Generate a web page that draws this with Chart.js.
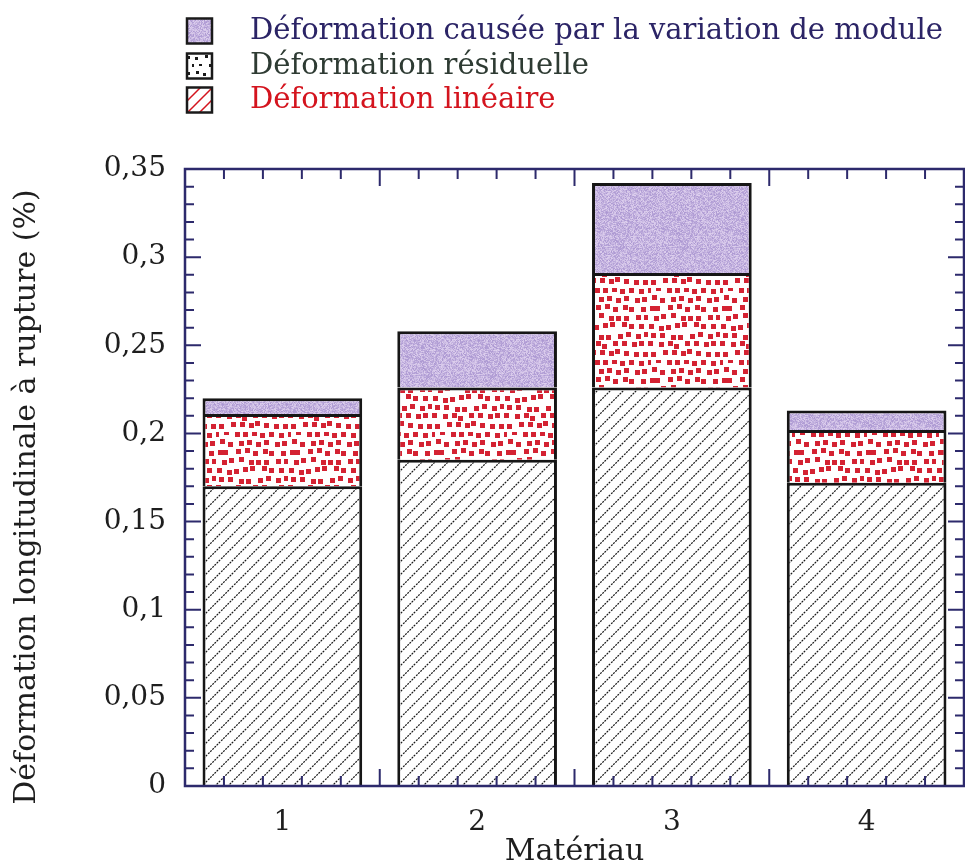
<!DOCTYPE html>
<html>
<head>
<meta charset="utf-8">
<script src="https://cdn.jsdelivr.net/npm/chart.js@4"></script>
<style>
  html, body { margin: 0; background: #fff; }
</style>
</head>
<body>
<canvas id="chart" width="965" height="867"></canvas>
<script>
// Strain at rupture (%), one value per material
const materials = ['1', '2', '3', '4'];
const linearStrain = [0.170, 0.185, 0.226, 0.172];
const residualStrain = [0.041, 0.041, 0.065, 0.030];
const moduleStrain = [0.009, 0.032, 0.051, 0.011];
const seriesNames = [
    'Déformation linéaire',
    'Déformation résiduelle',
    'Déformation causée par la variation de module'
];
const yTitle = 'Déformation longitudinale à rupture (%)';

const FONT = 'DejaVu Serif';
const AXIS_COLOR = '#2d2a6c';
const TEXT_COLOR = '#1e1e1e';

// deterministic jitter for the fill textures
function lcg(seed) {
    let s = seed;
    return () => (s = (s * 16807) % 2147483647) / 2147483647;
}

function makeCanvas(w, h) {
    const c = document.createElement('canvas');
    c.width = w;
    c.height = h;
    return c;
}

function hatchTile(color, step, dashed) {
    const c = makeCanvas(step, step);
    const g = c.getContext('2d');
    g.fillStyle = '#fff';
    g.fillRect(0, 0, step, step);
    g.strokeStyle = color;
    g.lineWidth = dashed ? 1.2 : 1.5;
    if (dashed) g.setLineDash([2, 1]);
    g.beginPath();
    g.moveTo(-2, step + 2); g.lineTo(step + 2, -2);
    g.moveTo(-2, 2); g.lineTo(2, -2);
    g.moveTo(step - 2, step + 2); g.lineTo(step + 2, step - 2);
    g.stroke();
    return c;
}

function squaresTile(color, size, gap, jitter) {
    const n = 8;
    const c = makeCanvas(n * gap, n * gap);
    const g = c.getContext('2d');
    const rnd = lcg(11);
    g.fillStyle = '#fff';
    g.fillRect(0, 0, c.width, c.height);
    g.fillStyle = color;
    for (let r = 0; r < n; r++) {
        for (let k = 0; k < n; k++) {
            const x = k * gap + (r % 2) * gap / 2 + (rnd() - 0.5) * jitter;
            const y = r * gap + (rnd() - 0.5) * jitter;
            g.fillRect(Math.round(x), Math.round(y), size, size);
        }
    }
    return c;
}

function noiseTile() {
    const s = 64;
    const c = makeCanvas(s, s);
    const g = c.getContext('2d');
    const img = g.createImageData(s, s);
    const rnd = lcg(5);
    for (let i = 0; i < s * s; i++) {
        const n = rnd();
        img.data[i * 4] = 222 - 50 * n;
        img.data[i * 4 + 1] = 208 - 56 * n;
        img.data[i * 4 + 2] = 238 - 28 * n;
        img.data[i * 4 + 3] = 255;
    }
    g.putImageData(img, 0, 0);
    return c;
}

const ctx = document.getElementById('chart').getContext('2d');
const hatchFill = ctx.createPattern(hatchTile('#1a1a1a', 13, true), 'repeat');
const squaresFill = ctx.createPattern(squaresTile('#d42232', 5, 9, 4), 'repeat');
const purpleFill = ctx.createPattern(noiseTile(), 'repeat');

// Box ticks pointing into the plot on all four sides
const frameTicks = {
    id: 'frameTicks',
    afterDatasetsDraw(chart) {
        const { ctx, chartArea: a, scales: { x, y } } = chart;
        ctx.save();
        ctx.strokeStyle = AXIS_COLOR;
        ctx.lineWidth = 2.5;
        ctx.strokeRect(a.left, a.top, a.right - a.left, a.bottom - a.top);
        ctx.lineWidth = 2;
        ctx.beginPath();
        for (let i = 0; i <= 35; i++) {
            const py = y.getPixelForValue(i / 100);
            const len = i % 5 === 0 ? 16 : 9;
            ctx.moveTo(a.left, py); ctx.lineTo(a.left + len, py);
            ctx.moveTo(a.right, py); ctx.lineTo(a.right - len, py);
        }
        const w = (a.right - a.left) / materials.length;
        materials.forEach((m, i) => {
            const start = x.getPixelForValue(i) - w / 2;
            for (let k = 0; k < 5; k++) {
                const px = start + k * w / 5;
                const len = k === 0 ? 17 : 10;
                ctx.moveTo(px, a.bottom); ctx.lineTo(px, a.bottom - len);
                ctx.moveTo(px, a.top); ctx.lineTo(px, a.top + len);
            }
        });
        ctx.stroke();
        ctx.restore();
    }
};

// Legend stacked above the plot (top series first) and the vertical axis title
const legendBox = {
    id: 'legendBox',
    afterDraw(chart) {
        const { ctx } = chart;
        const items = [
            { label: seriesNames[2], color: '#2b2466', swatch: purpleFill, y: 31 },
            { label: seriesNames[1], color: '#2e3b33', swatch: ctx.createPattern(squaresTile('#1a1a1a', 3, 8, 3), 'repeat'), y: 66 },
            { label: seriesNames[0], color: '#d4141e', swatch: ctx.createPattern(hatchTile('#d4141e', 12, false), 'repeat'), y: 100 }
        ];
        ctx.save();
        items.forEach(it => {
            const s = 25;
            ctx.fillStyle = it.swatch;
            ctx.fillRect(187, it.y - s / 2, s, s);
            ctx.strokeStyle = '#1a1a1a';
            ctx.lineWidth = 2.5;
            ctx.strokeRect(187, it.y - s / 2, s, s);
            ctx.fillStyle = it.color;
            ctx.font = '29px "' + FONT + '"';
            ctx.textBaseline = 'middle';
            ctx.fillText(it.label, 250, it.y);
        });

        ctx.translate(27, 497);
        ctx.rotate(-Math.PI / 2);
        ctx.fillStyle = TEXT_COLOR;
        ctx.font = '30px "' + FONT + '"';
        ctx.textAlign = 'center';
        ctx.textBaseline = 'middle';
        ctx.fillText(yTitle, 0, 0);
        ctx.restore();
    }
};

// bottom edge of each segment is skipped so stacked segments share one divider line
const barStyle = {
    borderColor: '#161616',
    borderWidth: 3,
    borderSkipped: 'start',
    barPercentage: 0.82,
    categoryPercentage: 1
};

new Chart(ctx, {
    type: 'bar',
    data: {
        labels: materials,
        datasets: [
            { label: seriesNames[0], data: linearStrain, backgroundColor: hatchFill, ...barStyle },
            { label: seriesNames[1], data: residualStrain, backgroundColor: squaresFill, ...barStyle },
            { label: seriesNames[2], data: moduleStrain, backgroundColor: purpleFill, ...barStyle }
        ]
    },
    options: {
        responsive: false,
        animation: false,
        devicePixelRatio: 1,
        layout: { padding: { top: 169, right: 1, left: 0, bottom: 0 } },
        plugins: {
            legend: { display: false },
            tooltip: { enabled: false }
        },
        scales: {
            x: {
                stacked: true,
                grid: { display: false, drawTicks: false },
                border: { display: false },
                ticks: { color: TEXT_COLOR, font: { family: FONT, size: 28 }, padding: 20 },
                title: {
                    display: true,
                    text: 'Matériau',
                    color: TEXT_COLOR,
                    font: { family: FONT, size: 30 },
                    padding: { top: 0, bottom: -3 }
                },
                afterFit(scale) { scale.height = 81; }
            },
            y: {
                stacked: true,
                min: 0,
                max: 0.35,
                grid: { display: false, drawTicks: false },
                border: { display: false },
                ticks: {
                    stepSize: 0.05,
                    color: TEXT_COLOR,
                    font: { family: FONT, size: 28 },
                    padding: 19,
                    callback: v => String(Math.round(v * 100) / 100).replace('.', ',')
                },
                afterFit(scale) { scale.width = 185; }
            }
        }
    },
    plugins: [frameTicks, legendBox]
});
</script>
</body>
</html>
